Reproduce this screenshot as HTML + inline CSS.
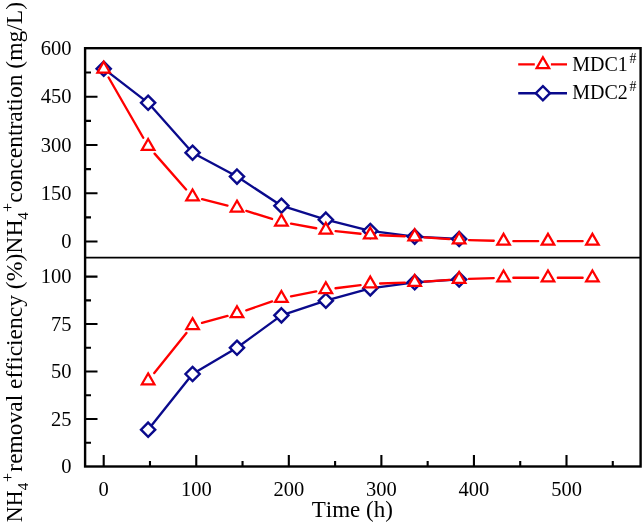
<!DOCTYPE html>
<html><head><meta charset="utf-8"><style>
html,body{margin:0;padding:0;background:#fff;}
svg{display:block;will-change:transform;}
text{font-family:"Liberation Serif",serif;fill:#000;font-kerning:none;font-variant-ligatures:none;}
</style></head><body>
<svg width="644" height="527" viewBox="0 0 644 527">
<rect width="644" height="527" fill="#fff"/>
<rect x="85.10" y="48.20" width="555.50" height="418.30" fill="none" stroke="#000" stroke-width="2.4"/>
<line x1="85.10" y1="257.6" x2="640.60" y2="257.6" stroke="#000" stroke-width="1.9"/>
<path d="M85.10 241.55H97.5M85.10 193.27H97.5M85.10 144.98H97.5M85.10 96.69H97.5M85.10 217.41H91M85.10 169.12H91M85.10 120.84H91M85.10 72.55H91M85.10 419.02H97.5M85.10 371.55H97.5M85.10 324.07H97.5M85.10 276.60H97.5M85.10 442.76H91M85.10 395.29H91M85.10 347.81H91M85.10 300.34H91M103.70 466.50V455M196.26 466.50V455M288.82 466.50V455M381.38 466.50V455M473.94 466.50V455M566.50 466.50V455M149.98 466.50V461M242.54 466.50V461M335.10 466.50V461M427.66 466.50V461M520.22 466.50V461M612.78 466.50V461" stroke="#000" stroke-width="2.1" fill="none"/>
<g font-size="20.5"><text x="71.5" y="248.25" text-anchor="end">0</text><text x="71.5" y="199.97" text-anchor="end">150</text><text x="71.5" y="151.68" text-anchor="end">300</text><text x="71.5" y="103.39" text-anchor="end">450</text><text x="71.5" y="55.11" text-anchor="end">600</text><text x="71.5" y="473.20" text-anchor="end">0</text><text x="71.5" y="425.72" text-anchor="end">25</text><text x="71.5" y="378.25" text-anchor="end">50</text><text x="71.5" y="330.77" text-anchor="end">75</text><text x="71.5" y="283.30" text-anchor="end">100</text><text x="103.70" y="495.5" text-anchor="middle">0</text><text x="196.26" y="495.5" text-anchor="middle">100</text><text x="288.82" y="495.5" text-anchor="middle">200</text><text x="381.38" y="495.5" text-anchor="middle">300</text><text x="473.94" y="495.5" text-anchor="middle">400</text><text x="566.50" y="495.5" text-anchor="middle">500</text></g>
<text x="311.7" y="516.6" font-size="23">Time (h)</text>
<g transform="rotate(-90)"><text x="-522.2" y="22.20" font-size="23" textLength="31.7" lengthAdjust="spacingAndGlyphs">NH</text><text x="-490.2" y="28.2" font-size="15">4</text><text x="-482.0" y="12.7" font-size="16">+</text><text x="-471.7" y="22.20" font-size="23" textLength="176.6" lengthAdjust="spacingAndGlyphs">removal efficiency</text><text x="-289.2" y="22.20" font-size="23" textLength="69.7" lengthAdjust="spacingAndGlyphs">(%)NH</text><text x="-219.8" y="28.2" font-size="15">4</text><text x="-211.9" y="12.7" font-size="16">+</text><text x="-202.8" y="22.20" font-size="23" textLength="200.9" lengthAdjust="spacingAndGlyphs">concentration (mg/L)</text></g>
<polyline points="103.70,68.69 148.13,102.81 192.56,152.71 236.99,176.59 281.42,205.69 325.84,219.66 370.27,230.93 414.70,236.62 459.13,239.01" fill="none" stroke="#0a0a8c" stroke-width="2.35" stroke-linejoin="round"/>
<polyline points="148.13,429.66 192.56,374.02 236.99,347.81 281.42,315.34 325.84,300.72 370.27,288.37 414.70,282.30 459.13,279.45" fill="none" stroke="#0a0a8c" stroke-width="2.35" stroke-linejoin="round"/>
<path d="M103.70 61.59L110.80 68.69L103.70 75.79L96.60 68.69Z" fill="#fff" stroke="#0a0a8c" stroke-width="2.40" stroke-miterlimit="10"/>
<path d="M148.13 95.71L155.23 102.81L148.13 109.91L141.03 102.81Z" fill="#fff" stroke="#0a0a8c" stroke-width="2.40" stroke-miterlimit="10"/>
<path d="M192.56 145.61L199.66 152.71L192.56 159.81L185.46 152.71Z" fill="#fff" stroke="#0a0a8c" stroke-width="2.40" stroke-miterlimit="10"/>
<path d="M236.99 169.49L244.09 176.59L236.99 183.69L229.89 176.59Z" fill="#fff" stroke="#0a0a8c" stroke-width="2.40" stroke-miterlimit="10"/>
<path d="M281.42 198.59L288.52 205.69L281.42 212.79L274.32 205.69Z" fill="#fff" stroke="#0a0a8c" stroke-width="2.40" stroke-miterlimit="10"/>
<path d="M325.84 212.56L332.94 219.66L325.84 226.76L318.74 219.66Z" fill="#fff" stroke="#0a0a8c" stroke-width="2.40" stroke-miterlimit="10"/>
<path d="M370.27 223.83L377.37 230.93L370.27 238.03L363.17 230.93Z" fill="#fff" stroke="#0a0a8c" stroke-width="2.40" stroke-miterlimit="10"/>
<path d="M414.70 229.52L421.80 236.62L414.70 243.72L407.60 236.62Z" fill="#fff" stroke="#0a0a8c" stroke-width="2.40" stroke-miterlimit="10"/>
<path d="M459.13 231.91L466.23 239.01L459.13 246.11L452.03 239.01Z" fill="#fff" stroke="#0a0a8c" stroke-width="2.40" stroke-miterlimit="10"/>
<path d="M148.13 422.56L155.23 429.66L148.13 436.76L141.03 429.66Z" fill="#fff" stroke="#0a0a8c" stroke-width="2.40" stroke-miterlimit="10"/>
<path d="M192.56 366.92L199.66 374.02L192.56 381.12L185.46 374.02Z" fill="#fff" stroke="#0a0a8c" stroke-width="2.40" stroke-miterlimit="10"/>
<path d="M236.99 340.71L244.09 347.81L236.99 354.91L229.89 347.81Z" fill="#fff" stroke="#0a0a8c" stroke-width="2.40" stroke-miterlimit="10"/>
<path d="M281.42 308.24L288.52 315.34L281.42 322.44L274.32 315.34Z" fill="#fff" stroke="#0a0a8c" stroke-width="2.40" stroke-miterlimit="10"/>
<path d="M325.84 293.62L332.94 300.72L325.84 307.82L318.74 300.72Z" fill="#fff" stroke="#0a0a8c" stroke-width="2.40" stroke-miterlimit="10"/>
<path d="M370.27 281.27L377.37 288.37L370.27 295.47L363.17 288.37Z" fill="#fff" stroke="#0a0a8c" stroke-width="2.40" stroke-miterlimit="10"/>
<path d="M414.70 275.20L421.80 282.30L414.70 289.40L407.60 282.30Z" fill="#fff" stroke="#0a0a8c" stroke-width="2.40" stroke-miterlimit="10"/>
<path d="M459.13 272.35L466.23 279.45L459.13 286.55L452.03 279.45Z" fill="#fff" stroke="#0a0a8c" stroke-width="2.40" stroke-miterlimit="10"/>
<path d="M108.59 77.51L143.24 137.77M154.60 153.63L186.09 189.45M202.07 199.18L227.48 205.53M246.33 210.86L272.07 218.97M291.06 223.67L316.20 228.27M335.59 231.08L360.53 233.77M380.06 235.22L404.91 236.23M424.48 237.33L449.36 239.11M468.93 240.09L493.76 240.79M513.36 241.07L538.19 241.07M557.79 241.07L582.62 241.07" fill="none" stroke="#ff0000" stroke-width="2.35" stroke-linecap="round"/>
<path d="M154.27 373.03L186.42 333.04M202.02 322.86L227.52 315.99M246.26 310.27L272.14 301.42M291.03 296.36L316.23 291.40M335.56 288.27L360.55 285.06M380.07 283.48L404.91 282.63M424.48 281.63L449.35 279.93M468.92 278.92L493.76 278.07M513.36 277.74L538.19 277.74M557.79 277.74L582.62 277.74" fill="none" stroke="#ff0000" stroke-width="2.35" stroke-linecap="round"/>
<path d="M103.70 61.76L109.98 72.64L97.42 72.64Z" fill="#fff" stroke="#ff0000" stroke-width="2.25" stroke-miterlimit="10"/>
<path d="M148.13 139.02L154.41 149.89L141.85 149.89Z" fill="#fff" stroke="#ff0000" stroke-width="2.25" stroke-miterlimit="10"/>
<path d="M192.56 189.56L198.84 200.43L186.28 200.43Z" fill="#fff" stroke="#ff0000" stroke-width="2.25" stroke-miterlimit="10"/>
<path d="M236.99 200.66L243.27 211.54L230.71 211.54Z" fill="#fff" stroke="#ff0000" stroke-width="2.25" stroke-miterlimit="10"/>
<path d="M281.42 214.66L287.69 225.54L275.14 225.54Z" fill="#fff" stroke="#ff0000" stroke-width="2.25" stroke-miterlimit="10"/>
<path d="M325.84 222.78L332.12 233.65L319.57 233.65Z" fill="#fff" stroke="#ff0000" stroke-width="2.25" stroke-miterlimit="10"/>
<path d="M370.27 227.57L376.55 238.45L363.99 238.45Z" fill="#fff" stroke="#ff0000" stroke-width="2.25" stroke-miterlimit="10"/>
<path d="M414.70 229.37L420.98 240.25L408.42 240.25Z" fill="#fff" stroke="#ff0000" stroke-width="2.25" stroke-miterlimit="10"/>
<path d="M459.13 232.56L465.41 243.44L452.85 243.44Z" fill="#fff" stroke="#ff0000" stroke-width="2.25" stroke-miterlimit="10"/>
<path d="M503.56 233.82L509.84 244.69L497.28 244.69Z" fill="#fff" stroke="#ff0000" stroke-width="2.25" stroke-miterlimit="10"/>
<path d="M547.99 233.82L554.27 244.69L541.71 244.69Z" fill="#fff" stroke="#ff0000" stroke-width="2.25" stroke-miterlimit="10"/>
<path d="M592.42 233.82L598.70 244.69L586.14 244.69Z" fill="#fff" stroke="#ff0000" stroke-width="2.25" stroke-miterlimit="10"/>
<path d="M148.13 373.42L154.41 384.29L141.85 384.29Z" fill="#fff" stroke="#ff0000" stroke-width="2.25" stroke-miterlimit="10"/>
<path d="M192.56 318.15L198.84 329.03L186.28 329.03Z" fill="#fff" stroke="#ff0000" stroke-width="2.25" stroke-miterlimit="10"/>
<path d="M236.99 306.19L243.27 317.07L230.71 317.07Z" fill="#fff" stroke="#ff0000" stroke-width="2.25" stroke-miterlimit="10"/>
<path d="M281.42 291.00L287.69 301.87L275.14 301.87Z" fill="#fff" stroke="#ff0000" stroke-width="2.25" stroke-miterlimit="10"/>
<path d="M325.84 282.26L332.12 293.14L319.57 293.14Z" fill="#fff" stroke="#ff0000" stroke-width="2.25" stroke-miterlimit="10"/>
<path d="M370.27 276.57L376.55 287.44L363.99 287.44Z" fill="#fff" stroke="#ff0000" stroke-width="2.25" stroke-miterlimit="10"/>
<path d="M414.70 275.05L420.98 285.92L408.42 285.92Z" fill="#fff" stroke="#ff0000" stroke-width="2.25" stroke-miterlimit="10"/>
<path d="M459.13 272.01L465.41 282.88L452.85 282.88Z" fill="#fff" stroke="#ff0000" stroke-width="2.25" stroke-miterlimit="10"/>
<path d="M503.56 270.49L509.84 281.36L497.28 281.36Z" fill="#fff" stroke="#ff0000" stroke-width="2.25" stroke-miterlimit="10"/>
<path d="M547.99 270.49L554.27 281.36L541.71 281.36Z" fill="#fff" stroke="#ff0000" stroke-width="2.25" stroke-miterlimit="10"/>
<path d="M592.42 270.49L598.70 281.36L586.14 281.36Z" fill="#fff" stroke="#ff0000" stroke-width="2.25" stroke-miterlimit="10"/>
<path d="M518.2 64.3H534.8M550.9 64.3H567" stroke="#ff0000" stroke-width="2.35"/>
<path d="M542.90 57.25L549.18 68.12L536.62 68.12Z" fill="#fff" stroke="#ff0000" stroke-width="2.25" stroke-miterlimit="10"/>
<path d="M518.2 93.2H567" stroke="#0a0a8c" stroke-width="2.35"/>
<path d="M542.90 86.10L550.00 93.20L542.90 100.30L535.80 93.20Z" fill="#fff" stroke="#0a0a8c" stroke-width="2.40" stroke-miterlimit="10"/>
<text x="572.3" y="70.5" font-size="20">MDC1</text><text x="629.6" y="62.8" font-size="13.8">#</text>
<text x="572.3" y="98.7" font-size="20">MDC2</text><text x="629.6" y="91.3" font-size="13.8">#</text>
</svg>
</body></html>
